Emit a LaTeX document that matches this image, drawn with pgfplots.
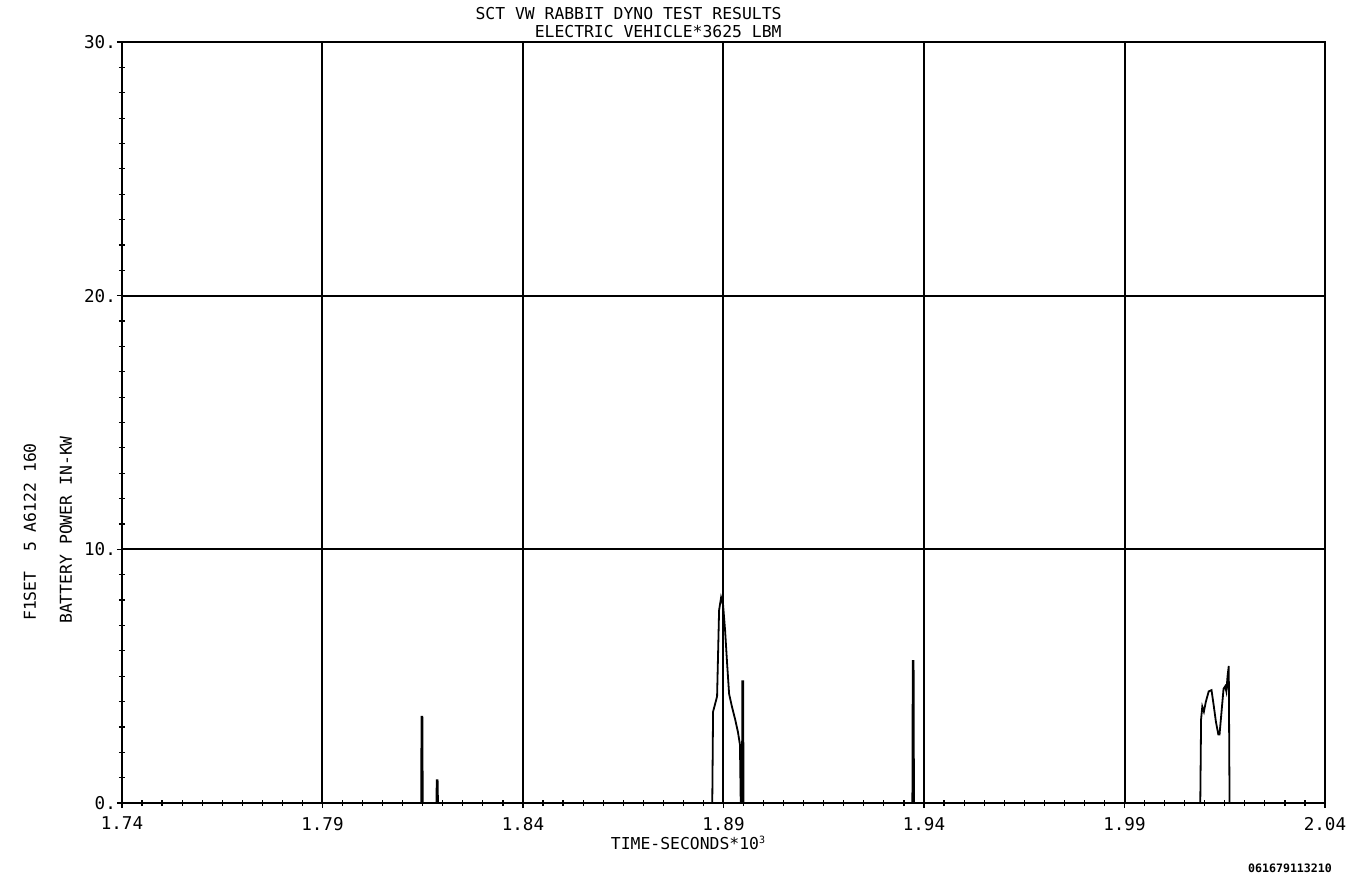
\documentclass[border=0pt]{standalone}
\usepackage{fontspec}
\setmainfont{DejaVu Sans Mono}
\usepackage{pgfplots}
\pgfplotsset{compat=1.18}
\begin{document}
\begin{tikzpicture}
\path[use as bounding box] (-61pt,-43.5pt) rectangle (612pt,401.5pt);
\begin{axis}[
  at={(0,0)}, anchor=south west,
  scale only axis,
  width=601.5pt, height=380.5pt,
  xmin=1.74, xmax=2.04, ymin=0, ymax=30,
  xtick={1.74,1.79,1.84,1.89,1.94,1.99,2.04},
  xticklabels={1.74,1.79,1.84,1.89,1.94,1.99,2.04},
  ytick={0,10,20,30},
  yticklabels={0.,10.,20.,30.},
  minor x tick num=9, minor y tick num=9,
  tick align=center,
  major tick length=5pt, minor tick length=3pt,
  tick style={black, line width=0.6pt},
  xtick pos=bottom, ytick pos=left,
  grid=major,
  major grid style={black, line width=1pt},
  axis line style={black, line width=1pt},
  ticklabel style={font=\fontsize{8.8pt}{10pt}\selectfont},
  xticklabel style={yshift=-1pt},
  yticklabel style={xshift=3pt},
  clip=true,
]
\addplot[black, line width=0.9pt] coordinates {
(1.74,0)
(1.8146,0) (1.8147,3.4) (1.8149,3.4) (1.8150,0)
(1.8184,0) (1.8185,0.9) (1.8187,0.9) (1.8188,0)
(1.8872,0) (1.8874,3.6) (1.8879,3.9) (1.8884,4.2) (1.8889,7.6) (1.8894,8.1) (1.8899,7.8)
(1.8904,6.8) (1.8909,5.5) (1.8914,4.3) (1.8921,3.8) (1.8929,3.3) (1.8936,2.8) (1.8941,2.3)
(1.8943,0) (1.8946,0) (1.8947,4.8) (1.8949,4.8) (1.8950,0)
(1.9371,0) (1.9372,5.6) (1.9374,5.6) (1.9375,0)
(2.0089,0) (2.0091,3.3) (2.0094,3.8) (2.0098,3.6) (2.0103,4.0) (2.0110,4.4) (2.0117,4.45)
(2.0122,3.9) (2.0128,3.2) (2.0134,2.7) (2.0137,2.7) (2.0142,3.6) (2.0147,4.5) (2.0151,4.6)
(2.0154,4.4) (2.0157,5.0) (2.0160,5.4) (2.0162,0)
(2.04,0)
};
\end{axis}
\node[anchor=east, inner sep=0pt, font=\fontsize{8.2pt}{10pt}\selectfont] at (330pt,394.5pt) {SCT VW RABBIT DYNO TEST RESULTS};
\node[anchor=east, inner sep=0pt, font=\fontsize{8.2pt}{10pt}\selectfont] at (330pt,385.5pt) {ELECTRIC VEHICLE*3625 LBM};
\node[rotate=90, inner sep=0pt, font=\fontsize{8.2pt}{10pt}\selectfont] at (-28pt,136.5pt) {BATTERY POWER IN-KW};
\node[rotate=90, inner sep=0pt, font=\fontsize{8.2pt}{10pt}\selectfont] at (-46pt,135.5pt) {F1SET\ \ 5 A6122 160};
\node[inner sep=0pt, font=\fontsize{8.2pt}{10pt}\selectfont] at (283pt,-20pt) {TIME-SECONDS*10\raisebox{0.6ex}{\fontsize{5pt}{6pt}\selectfont 3}};
\node[inner sep=0pt, font=\bfseries\fontsize{5.8pt}{7pt}\selectfont] at (584pt,-32.5pt) {061679113210};
\end{tikzpicture}
\end{document}
